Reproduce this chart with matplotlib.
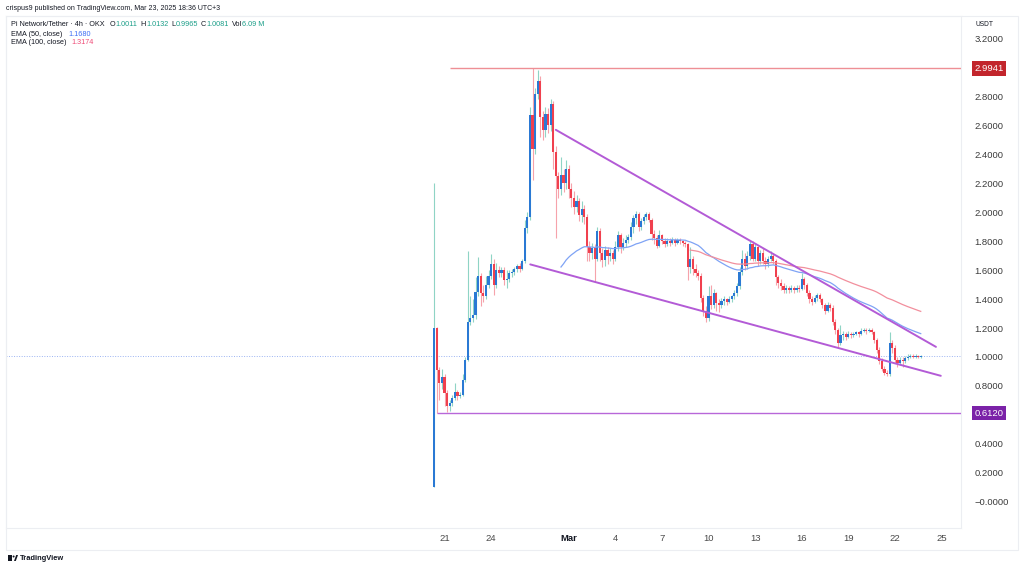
import numpy as np
import pandas as pd
import matplotlib
matplotlib.use("Agg")
import matplotlib.pyplot as plt
import matplotlib.dates as mdates
from matplotlib.transforms import IdentityTransform
from matplotlib.patches import Rectangle, Circle, Polygon

plt.rcParams["font.family"] = ["Liberation Sans", "DejaVu Sans"]

# ---- data: PI/USDT 4h candles (OKX) ----
START = "2025-02-20 08:00"
OPEN0 = 0.10
CLOSE = [
    1.20, 0.91, 0.82, 0.86, 0.75, 0.66, 0.68, 0.72, 0.76, 0.73,
    0.74, 0.84, 0.98, 1.24, 1.27, 1.29, 1.45, 1.56, 1.44, 1.42,
    1.50, 1.56, 1.64, 1.50, 1.60, 1.58, 1.60, 1.53, 1.54, 1.58,
    1.59, 1.61, 1.63, 1.61, 1.66, 1.89, 1.97, 2.67, 2.44, 2.82,
    2.91, 2.66, 2.57, 2.68, 2.60, 2.75, 2.42, 2.25, 2.16, 2.26,
    2.20, 2.30, 2.16, 2.10, 2.04, 2.08, 1.98, 2.02, 1.97, 1.76,
    1.72, 1.75, 1.68, 1.87, 1.72, 1.67, 1.74, 1.70, 1.72, 1.68,
    1.76, 1.84, 1.76, 1.79, 1.81, 1.83, 1.90, 1.96, 1.99, 1.90,
    1.94, 1.97, 1.99, 1.95, 1.85, 1.82, 1.77, 1.84, 1.80, 1.78,
    1.80, 1.79, 1.81, 1.79, 1.81, 1.80, 1.79, 1.78, 1.62, 1.68,
    1.61, 1.58, 1.56, 1.41, 1.32, 1.27, 1.42, 1.36, 1.44, 1.37,
    1.36, 1.39, 1.40, 1.38, 1.40, 1.42, 1.44, 1.49, 1.59, 1.68,
    1.63, 1.70, 1.78, 1.68, 1.76, 1.66, 1.72, 1.66, 1.64, 1.68,
    1.70, 1.66, 1.55, 1.51, 1.49, 1.46, 1.48, 1.46, 1.48, 1.46,
    1.48, 1.47, 1.54, 1.50, 1.44, 1.40, 1.38, 1.41, 1.43, 1.40,
    1.36, 1.32, 1.36, 1.34, 1.24, 1.19, 1.10, 1.15, 1.16, 1.14,
    1.16, 1.15, 1.16, 1.17, 1.16, 1.18, 1.19, 1.18, 1.19, 1.17,
    1.12, 1.05, 0.97, 0.92, 0.89, 0.88, 1.10, 1.06, 0.98, 0.96,
    0.98, 0.97, 0.99, 1.00, 1.01, 1.00, 1.01, 1.0011, 1.0081,
]
HIGH = [
    2.20, 1.21, 0.93, 0.92, 0.88, 0.77, 0.70, 0.74, 0.82, 0.77,
    0.76, 0.88, 1.00, 1.73, 1.42, 1.40, 1.55, 1.69, 1.58, 1.50,
    1.56, 1.60, 1.71, 1.68, 1.65, 1.63, 1.62, 1.62, 1.60, 1.60,
    1.61, 1.62, 1.64, 1.65, 1.68, 1.95, 2.00, 2.73, 2.9941, 2.86,
    2.98, 2.94, 2.70, 2.73, 2.72, 2.78, 2.77, 2.46, 2.28, 2.38,
    2.30, 2.36, 2.33, 2.20, 2.15, 2.12, 2.10, 2.08, 2.05, 1.99,
    1.80, 1.79, 1.78, 1.90, 1.89, 1.75, 1.77, 1.76, 1.75, 1.74,
    1.80, 1.87, 1.86, 1.82, 1.84, 1.85, 1.93, 1.98, 2.01, 2.00,
    1.96, 1.99, 2.00, 2.00, 1.96, 1.88, 1.84, 1.88, 1.85, 1.82,
    1.82, 1.82, 1.83, 1.82, 1.82, 1.82, 1.81, 1.80, 1.79, 1.76,
    1.70, 1.64, 1.60, 1.58, 1.43, 1.35, 1.49, 1.50, 1.47, 1.45,
    1.40, 1.41, 1.42, 1.41, 1.42, 1.43, 1.46, 1.51, 1.62, 1.74,
    1.72, 1.73, 1.80, 1.80, 1.78, 1.77, 1.74, 1.75, 1.69, 1.70,
    1.73, 1.72, 1.68, 1.57, 1.54, 1.51, 1.50, 1.49, 1.50, 1.49,
    1.50, 1.50, 1.58, 1.55, 1.51, 1.46, 1.42, 1.43, 1.44, 1.44,
    1.41, 1.37, 1.38, 1.37, 1.36, 1.26, 1.20, 1.22, 1.18, 1.17,
    1.18, 1.17, 1.17, 1.18, 1.18, 1.20, 1.20, 1.20, 1.20, 1.20,
    1.18, 1.13, 1.07, 0.99, 0.94, 0.91, 1.175, 1.12, 1.08, 1.00,
    1.00, 1.00, 1.01, 1.02, 1.02, 1.02, 1.02, 1.015, 1.0132,
]
LOW = [
    0.10, 0.612, 0.70, 0.78, 0.66, 0.62, 0.63, 0.66, 0.70, 0.70,
    0.72, 0.73, 0.83, 0.97, 1.22, 1.24, 1.26, 1.42, 1.35, 1.38,
    1.40, 1.48, 1.54, 1.43, 1.48, 1.55, 1.55, 1.50, 1.48, 1.52,
    1.55, 1.57, 1.59, 1.59, 1.60, 1.65, 1.86, 1.95, 2.22, 2.40,
    2.78, 2.52, 2.50, 2.52, 2.55, 2.56, 2.30, 1.82, 2.10, 2.12,
    2.14, 2.16, 2.10, 2.04, 1.99, 2.00, 1.94, 1.93, 1.92, 1.66,
    1.66, 1.68, 1.52, 1.66, 1.66, 1.62, 1.63, 1.64, 1.66, 1.64,
    1.66, 1.73, 1.72, 1.74, 1.76, 1.79, 1.81, 1.86, 1.92, 1.87,
    1.88, 1.92, 1.95, 1.93, 1.81, 1.78, 1.75, 1.76, 1.78, 1.76,
    1.77, 1.77, 1.78, 1.77, 1.78, 1.78, 1.77, 1.76, 1.53, 1.58,
    1.57, 1.55, 1.53, 1.38, 1.28, 1.24, 1.25, 1.33, 1.34, 1.32,
    1.31, 1.34, 1.36, 1.36, 1.37, 1.38, 1.40, 1.42, 1.47, 1.57,
    1.60, 1.61, 1.67, 1.66, 1.66, 1.63, 1.64, 1.64, 1.61, 1.62,
    1.66, 1.64, 1.50, 1.48, 1.46, 1.44, 1.44, 1.44, 1.45, 1.44,
    1.45, 1.45, 1.46, 1.47, 1.42, 1.37, 1.36, 1.37, 1.39, 1.38,
    1.34, 1.30, 1.31, 1.32, 1.22, 1.16, 1.06, 1.08, 1.12, 1.12,
    1.13, 1.13, 1.14, 1.15, 1.14, 1.15, 1.17, 1.16, 1.17, 1.16,
    1.10, 1.03, 0.95, 0.90, 0.876, 0.87, 0.87, 1.03, 0.96, 0.93,
    0.95, 0.93, 0.96, 0.98, 0.99, 0.99, 0.99, 0.995, 0.9965,
]

ATH, ATH_FROM = 2.9941, "2025-02-21 08:45"
SUPPORT, SUPPORT_FROM = 0.6120, "2025-02-20 13:00"
LAST = 1.0081
UPPER_WEDGE = [("2025-02-28 04:00", 2.57), ("2025-03-24 15:30", 1.07)]
LOWER_WEDGE = [("2025-02-26 12:30", 1.64), ("2025-03-24 23:00", 0.87)]

PRICE_TICKS = [3.2, 2.8, 2.6, 2.4, 2.2, 2.0, 1.8, 1.6, 1.4, 1.2, 1.0, 0.8, 0.4, 0.2, 0.0]
PRICE_LABELS = ["3.2000", "2.8000", "2.6000", "2.4000", "2.2000", "2.0000", "1.8000",
                "1.6000", "1.4000", "1.2000", "1.0000", "0.8000", "0.4000", "0.2000",
                "\u22120.0000"]
DATE_TICKS = ["2025-02-21", "2025-02-24", "2025-03-01", "2025-03-04", "2025-03-07",
              "2025-03-10", "2025-03-13", "2025-03-16", "2025-03-19", "2025-03-22",
              "2025-03-25"]
DATE_LABELS = ["21", "24", "Mar", "4", "7", "10", "13", "16", "19", "22", "25"]

# ---- colours ----
UP_BODY, UP_WICK = "#2a79d4", "#8fd4c5"
DN_BODY, DN_WICK = "#f0404e", "#f6a3ab"
EMA50_C, EMA100_C = "#7fa3f5", "#f28f9d"
WEDGE_C, SUPPORT_C, ATH_C = "#b35bd6", "#b867d9", "#ee8f95"
INK, INK2, BORDER = "#131722", "#3b3b3b", "#eceef2"
TEAL = "#1a9e88"

W, H = 1024, 569


def ema(vals, n):
    out = np.full(len(vals), np.nan)
    k = 2 / (n + 1)
    prev = float(np.mean(vals[:n]))
    out[n - 1] = prev
    for i in range(n, len(vals)):
        prev = vals[i] * k + prev * (1 - k)
        out[i] = prev
    return out


def dnum(s):
    return mdates.date2num(pd.Timestamp(s).to_pydatetime())


fig = plt.figure(figsize=(W / 100, H / 100), dpi=100, facecolor="white")
ax = fig.add_axes([6 / W, 1 - 528 / H, 955 / W, 512 / H])
ax.set_facecolor("white")

t = pd.date_range(START, periods=len(CLOSE), freq="4h")
x = mdates.date2num(t.to_pydatetime())
close = np.array(CLOSE)
opn = np.concatenate([[OPEN0], close[:-1]])
up = close >= opn

ax.vlines(x, LOW, HIGH, colors=np.where(up, UP_WICK, DN_WICK), lw=0.8, zorder=2)
body_lo = np.minimum(opn, close)
body_h = np.maximum(np.abs(close - opn), 0.007)
ax.bar(x, body_h, bottom=body_lo, width=0.14, color=np.where(up, UP_BODY, DN_BODY),
       linewidth=0, zorder=3)

ax.plot(x, ema(close, 50), color=EMA50_C, lw=0.9, zorder=4)
ax.plot(x, ema(close, 100), color=EMA100_C, lw=0.9, zorder=4)

x0 = dnum("2025-02-21") - 28.24
x1 = dnum("2025-02-21") + 33.26
ax.set_xlim(x0, x1)
ax.set_ylim(-0.1818, 3.3566)

ax.axhline(LAST, color="#9bb3f2", lw=0.7, ls=(0, (1, 1.6)), zorder=1)
ax.hlines(ATH, dnum(ATH_FROM), x1, color=ATH_C, lw=1.0, zorder=5)
ax.hlines(SUPPORT, dnum(SUPPORT_FROM), x1, color=SUPPORT_C, lw=1.0, zorder=5)
for line in (UPPER_WEDGE, LOWER_WEDGE):
    ax.plot([dnum(d) for d, _ in line], [p for _, p in line], color=WEDGE_C,
            lw=1.4, zorder=5, solid_capstyle="round")

# price scale on the right
ax.yaxis.tick_right()
ax.set_yticks(PRICE_TICKS)
ax.set_yticklabels(PRICE_LABELS)
ax.tick_params(axis="y", length=0, pad=9.5, labelsize=6.8, labelcolor=INK2)
ax.set_xticks([dnum(d) for d in DATE_TICKS])
ax.set_xticklabels(DATE_LABELS)
ax.tick_params(axis="x", length=0, pad=4.0, labelsize=6.8, labelcolor="#4a4a4a")
for lab in ax.get_xticklabels():
    if lab.get_text() == "Mar":
        lab.set_fontweight("bold")
        lab.set_color(INK)
for s in ax.spines.values():
    s.set_color(BORDER)
    s.set_linewidth(0.8)

ytf = ax.get_yaxis_transform()
for price, col in ((ATH, "#c2252c"), (SUPPORT, "#7b22a8")):
    ax.text(1.0293, price, f"{price:.4f}", transform=ytf, ha="center", va="center",
            color="white", fontsize=6.8, clip_on=False, zorder=6,
            bbox=dict(boxstyle="square,pad=0.28", fc=col, ec="none"))

# outer frame of the snapshot
fig.patches.append(Rectangle((6, H - 550), 1012, 534, transform=IdentityTransform(),
                             fill=False, ec=BORDER, lw=0.8))
fig.text(985, H - 25, "USDT", transform=IdentityTransform(), ha="center", va="center",
         fontsize=4.8, color=INK)

# header + legend
renderer = fig.canvas.get_renderer()


def line_of(xp, yp, parts, size=5.2):
    """Draw coloured text pieces one after another; (text, colour, gap_px)."""
    for s, c, gap in parts:
        tx = fig.text(xp, H - yp, s, transform=IdentityTransform(), ha="left",
                      va="center", fontsize=size, color=c)
        xp = tx.get_window_extent(renderer).x1 + gap


fig.text(6, H - 9, "crispus9 published on TradingView.com, Mar 23, 2025 18:36 UTC+3",
         transform=IdentityTransform(), ha="left", va="center", fontsize=5.0, color=INK)
line_of(11, 24, [("Pi Network/Tether \u00b7 4h \u00b7 OKX", INK, 5),
                 ("O", INK, 0.3), ("1.0011", TEAL, 3),
                 ("H", INK, 0.3), ("1.0132", TEAL, 3),
                 ("L", INK, 0.3), ("0.9965", TEAL, 3),
                 ("C", INK, 0.3), ("1.0081", TEAL, 3),
                 ("Vol", INK, 0.3), ("6.09 M", TEAL, 0)])
line_of(11, 34, [("EMA (50, close)", INK, 6), ("1.1680", "#3d6ef5", 0)])
line_of(11, 43, [("EMA (100, close)", INK, 5), ("1.3174", "#ef4b77", 0)])

# TradingView logo, bottom left
logo = "#131722"
fig.patches.append(Rectangle((8, H - 561), 4, 6, transform=IdentityTransform(), fc=logo, ec="none"))
fig.patches.append(Circle((13.6, H - 556.5), 1.0, transform=IdentityTransform(), fc=logo, ec="none"))
fig.patches.append(Polygon([(14, H - 561), (16.2, H - 555), (18, H - 555), (15.8, H - 561)],
                           closed=True, transform=IdentityTransform(), fc=logo, ec="none"))
fig.text(20, H - 558, "TradingView", transform=IdentityTransform(), ha="left", va="center",
         fontsize=5.4, fontweight="bold", color=logo)

fig.savefig("out.png", dpi=100, facecolor="white")
